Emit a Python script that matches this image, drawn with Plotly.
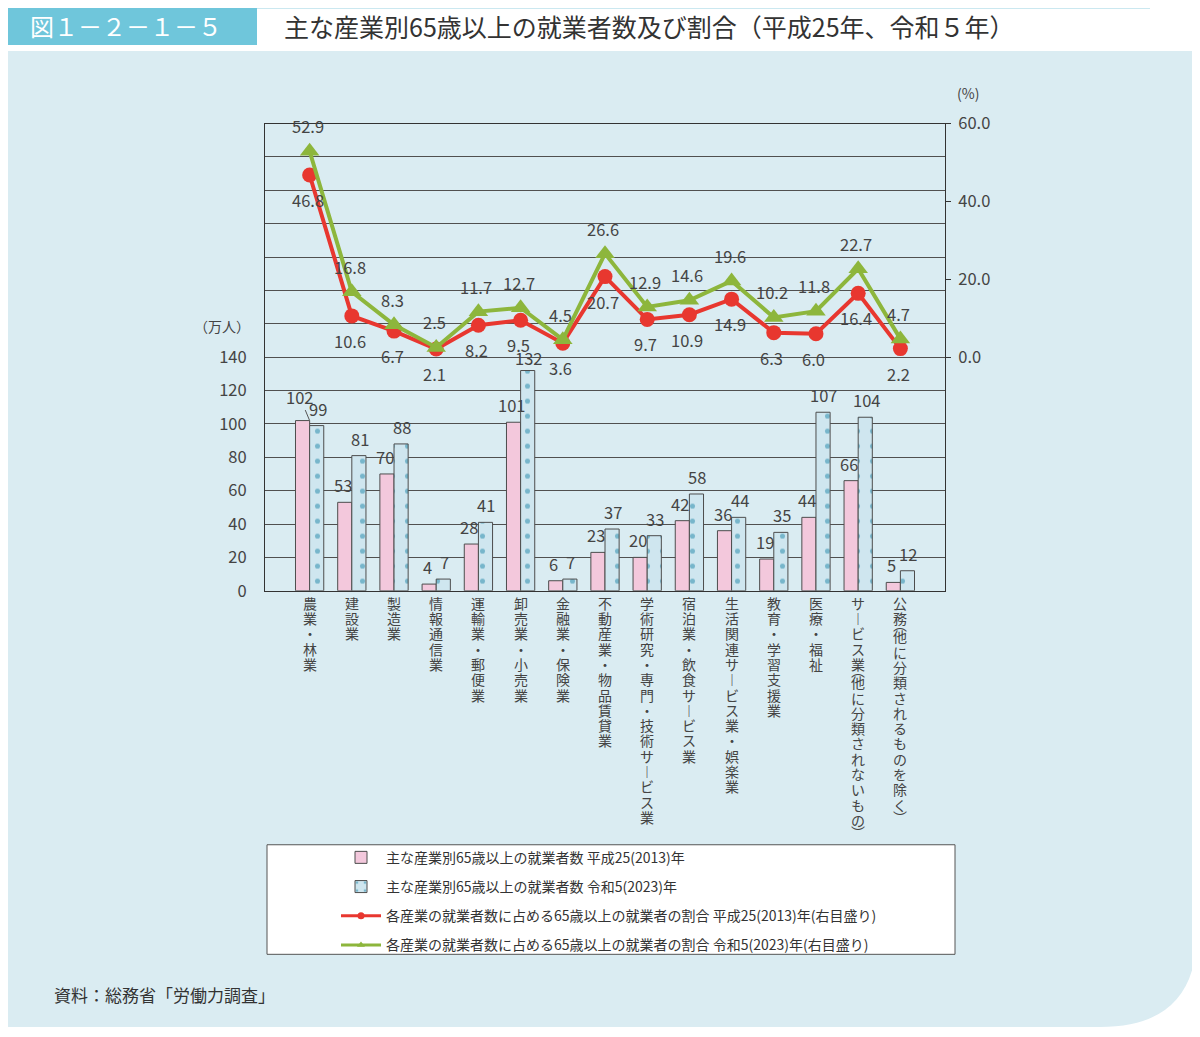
import plotly.graph_objects as go

# data
categories = ['農業・林業', '建設業', '製造業', '情報通信業', '運輸業・郵便業', '卸売業・小売業',
              '金融業・保険業', '不動産業・物品賃貸業', '学術研究・専門・技術サービス業',
              '宿泊業・飲食サービス業', '生活関連サービス業・娯楽業', '教育・学習支援業',
              '医療・福祉', 'サービス業(他に分類されないもの)', '公務(他に分類されるものを除く)']
workers_2013 = [102, 53, 70, 4, 28, 101, 6, 23, 20, 42, 36, 19, 44, 66, 5]
workers_2023 = [99, 81, 88, 7, 41, 132, 7, 37, 33, 58, 44, 35, 107, 104, 12]
share_2013 = [46.8, 10.6, 6.7, 2.1, 8.2, 9.5, 3.6, 20.7, 9.7, 10.9, 14.9, 6.3, 6.0, 16.4, 2.2]
share_2023 = [52.9, 16.8, 8.3, 2.5, 11.7, 12.7, 4.5, 26.6, 12.9, 14.6, 19.6, 10.2, 11.8, 22.7, 4.7]

left_ticks = list(range(0, 281, 20))
left_text = [str(v) if v <= 140 else '' for v in left_ticks]
right_ticks = [0, 20, 40, 60]
right_text = ['0.0', '20.0', '40.0', '60.0']

names = ['主な産業別65歳以上の就業者数 平成25(2013)年',
         '主な産業別65歳以上の就業者数 令和5(2023)年',
         '各産業の就業者数に占める65歳以上の就業者の割合 平成25(2013)年(右目盛り)',
         '各産業の就業者数に占める65歳以上の就業者の割合 令和5(2023)年(右目盛り)']

W, H = 1200, 1037
# page offset / squeeze seen in the screenshot
OX, OY, SY = 8, 20, 0.9807
def px(x): return (x - OX) / W
def py(y): return 1 - (y - OY) / SY / H

FONT = 'Noto Sans CJK JP'
TXT = '#444444'
GRID = '#505050'
RED = '#e8372f'
GREEN = '#8db63c'
NUM = 16.5

fig = go.Figure()
fig.add_trace(go.Bar(x=categories, y=workers_2013, name=names[0], legendgroup='a',
                     marker=dict(color='#f3c8dc', line=dict(color='#4d4d4d', width=1))))
fig.add_trace(go.Bar(x=categories, y=workers_2023, name=names[1], legendgroup='b',
                     marker=dict(color='#cfe6ef', line=dict(color='#4d4d4d', width=1),
                                 pattern=dict(shape='.', fgcolor='#1f86a8', bgcolor='#cfe6ef',
                                              size=15, solidity=0.09))))
fig.add_trace(go.Scatter(x=categories, y=share_2013, name=names[2], yaxis='y2', showlegend=False,
                         mode='lines+markers', line=dict(color=RED, width=4),
                         marker=dict(symbol='circle', size=15, color=RED)))
fig.add_trace(go.Scatter(x=categories, y=share_2023, name=names[3], yaxis='y2', showlegend=False,
                         mode='lines+markers', line=dict(color=GREEN, width=4),
                         marker=dict(symbol='triangle-up', size=17, color=GREEN)))
# legend entries with the small markers of the original key
fig.add_trace(go.Scatter(x=[None], y=[None], name=names[2], yaxis='y2', mode='lines+markers',
                         legendgroup='c', line=dict(color=RED, width=3),
                         marker=dict(symbol='circle', size=7, color=RED)))
fig.add_trace(go.Scatter(x=[None], y=[None], name=names[3], yaxis='y2', mode='lines+markers',
                         legendgroup='d', line=dict(color=GREEN, width=3),
                         marker=dict(symbol='triangle-up', size=7, color=GREEN)))

ann = []
# data labels
for i, (c, a, b) in enumerate(zip(categories, workers_2013, workers_2023)):
    if i == 0:
        # first label sits higher with a short leader
        ann.append(dict(x=c, y=a, xref='x', yref='y', text=str(a), showarrow=True, arrowhead=0,
                        arrowwidth=1, arrowcolor='#555555', ax=-10, ay=-24, standoff=0,
                        font=dict(size=NUM, color=TXT)))
    else:
        ann.append(dict(x=c, y=a, xref='x', yref='y', text=str(a), showarrow=False,
                        xshift=-9, yshift=17, font=dict(size=NUM, color=TXT)))
    ann.append(dict(x=c, y=b, xref='x', yref='y', text=str(b), showarrow=False,
                    xshift=8, yshift=17 if b < 120 else 13, font=dict(size=NUM, color=TXT)))
for c, a, b in zip(categories, share_2013, share_2023):
    ann.append(dict(x=c, y=a, xref='x', yref='y2', text=f'{a:.1f}', showarrow=False,
                    xshift=-2, yshift=-25, font=dict(size=NUM, color=TXT)))
    ann.append(dict(x=c, y=b, xref='x', yref='y2', text=f'{b:.1f}', showarrow=False,
                    xshift=-2, yshift=25, font=dict(size=NUM, color=TXT)))

# vertical category labels, one glyph at a time
vmap = {'ー': '︱', '(': '︵', ')': '︶'}
for c in categories:
    off = 12
    for ch in c:
        if ch == '(':
            ann.append(dict(x=c, y=py(592), xref='x', yref='paper', text=vmap[ch], showarrow=False,
                            yanchor='middle', yshift=-(off - 9), font=dict(size=14, color=TXT)))
            off += 3
        elif ch == ')':
            ann.append(dict(x=c, y=py(592), xref='x', yref='paper', text=vmap[ch], showarrow=False,
                            yanchor='middle', yshift=-(off - 3), font=dict(size=14, color=TXT)))
            off += 8
        else:
            ann.append(dict(x=c, y=py(592), xref='x', yref='paper', text=vmap.get(ch, ch),
                            showarrow=False, yanchor='middle', yshift=-off,
                            font=dict(size=14, color=TXT)))
            off += 15.3

# header and notes
ann.append(dict(x=px(28), y=py(25), xref='paper', yref='paper', xanchor='left', yanchor='middle',
                text='図１－２－１－５', showarrow=False, font=dict(size=24, color='white')))
ann.append(dict(x=px(282), y=py(25), xref='paper', yref='paper', xanchor='left', yanchor='middle',
                text='主な産業別65歳以上の就業者数及び割合（平成25年、令和５年）', showarrow=False,
                font=dict(size=25, color='#333333')))
ann.append(dict(x=px(252), y=py(326), xref='paper', yref='paper', xanchor='right', yanchor='middle',
                text='（万人）', showarrow=False, font=dict(size=14, color=TXT)))
ann.append(dict(x=px(955), y=py(92), xref='paper', yref='paper', xanchor='left', yanchor='middle',
                text='(%)', showarrow=False, font=dict(size=14, color=TXT)))
ann.append(dict(x=px(52), y=py(997), xref='paper', yref='paper', xanchor='left', yanchor='middle',
                text='資料：総務省「労働力調査」', showarrow=False, font=dict(size=17, color='#333333')))

panel = ('M {0},{1} L {2},{1} L {2},{3} Q {2},{4} {5},{4} L {0},{4} Z'
         .format(px(3), py(50), px(1197), py(935), py(1030), px(1100)))
shapes = [
    dict(type='path', path=panel, xref='paper', yref='paper', fillcolor='#daecf2',
         line=dict(width=0), layer='below'),
    dict(type='rect', x0=px(2), x1=px(257), y0=py(44), y1=py(3), xref='paper', yref='paper',
         fillcolor='#6fc6db', line=dict(width=0), layer='below'),
    dict(type='rect', x0=px(257), x1=px(1150), y0=py(8), y1=py(3), xref='paper', yref='paper',
         fillcolor='#cbe8f0', line=dict(width=0), layer='below'),
    dict(type='rect', x0=px(267), x1=px(955), y0=py(957), y1=py(847), xref='paper', yref='paper',
         fillcolor='white', line=dict(color='#555555', width=1), layer='below'),
]

fig.update_layout(
    width=W, height=H, autosize=False,
    margin=dict(l=0, r=0, t=0, b=0),
    paper_bgcolor='white', plot_bgcolor='white',
    font=dict(family=FONT, size=15, color=TXT),
    barmode='group', bargap=0.33, bargroupgap=0,
    showlegend=True,
    legend=dict(x=px(336), y=py(844), xanchor='left', yanchor='top',
                bgcolor='rgba(0,0,0,0)', borderwidth=0, tracegroupgap=8,
                font=dict(size=14, color='#333333'), itemwidth=40),
    xaxis=dict(domain=[px(265), px(945)], showticklabels=False, ticks='',
               showline=True, linecolor='#333333', linewidth=1, mirror=True, showgrid=False),
    yaxis=dict(domain=[py(592), py(123)], range=[0, 280], tickvals=left_ticks, ticktext=left_text,
               showgrid=True, gridcolor=GRID, gridwidth=1, zeroline=False, ticks='',
               ticklabelstandoff=14, showline=True, linecolor='#333333', linewidth=1,
               tickfont=dict(size=NUM, color=TXT)),
    yaxis2=dict(overlaying='y', side='right', range=[-60, 60], tickvals=right_ticks,
                ticktext=right_text, showgrid=False, zeroline=False, ticks='outside', ticklen=5,
                tickcolor='#333333', showline=True, linecolor='#333333', linewidth=1,
                ticklabelstandoff=4, tickfont=dict(size=NUM, color=TXT)),
    annotations=ann, shapes=shapes,
)

fig.write_html('out.html')
